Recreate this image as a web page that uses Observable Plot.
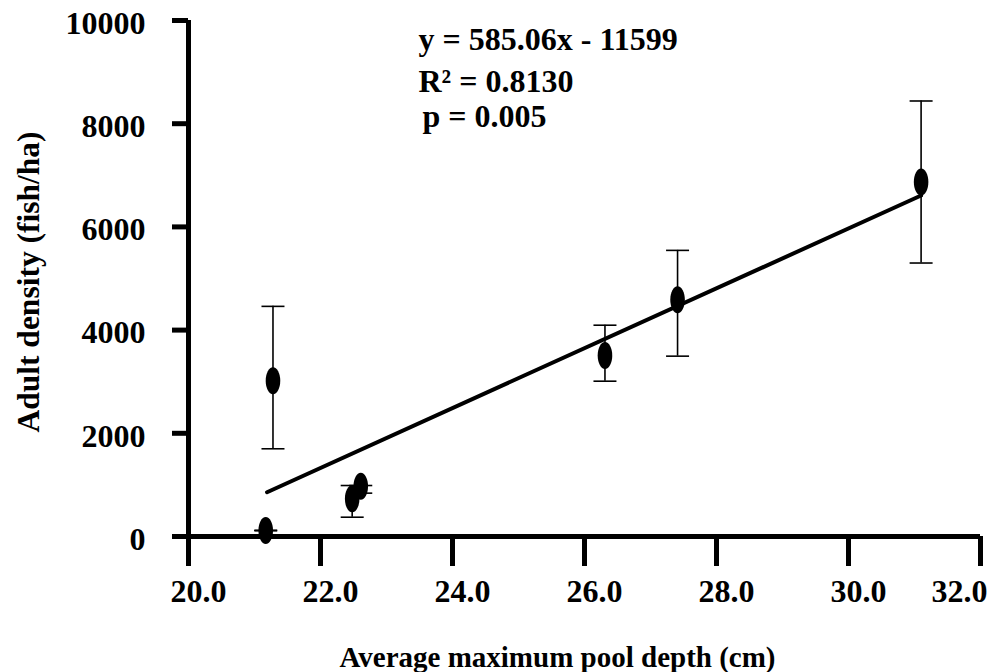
<!DOCTYPE html>
<html>
<head>
<meta charset="utf-8">
<script src="https://cdn.jsdelivr.net/npm/d3@7"></script>
<script src="https://cdn.jsdelivr.net/npm/@observablehq/plot@0.6"></script>
<style>
  html, body { margin: 0; padding: 0; background: #fff; }
</style>
</head>
<body>
<div id="chart"></div>
<script>
// ---- data ----
const depth   = [21.17, 21.28, 22.48, 22.61, 26.31, 27.41, 31.10];
const density = [116, 3020, 730, 975, 3510, 4590, 6870];
const errLow  = [110, 1700, 374, 840, 3010, 3495, 5300];
const errHigh = [122, 4460, 988, 988, 4095, 5545, 8440];

const fitX = [21.19, 31.10];
const fitY = [858, 6608];

const xTicks = [20, 22, 24, 26, 28, 30, 32];
const yTicks = [0, 2000, 4000, 6000, 8000, 10000];

const xLabel = "Average maximum pool depth (cm)";
const yLabel = "Adult density (fish/ha)";
const annotations = ["y = 585.06x - 11599", "R\u00B2 = 0.8130", "p = 0.005"];

// ---- tables built from the arrays ----
const points = depth.map((d, i) => ({x: d, y: density[i], lo: errLow[i], hi: errHigh[i]}));
const fit = fitX.map((d, i) => ({x: d, y: fitY[i]}));

// custom symbols
const K = 0.5523;
const ellipse = {
  draw(ctx, size) {
    const r = Math.sqrt(size / Math.PI);
    const ry = r, rx = r * 0.54;
    ctx.moveTo(rx, 0);
    ctx.bezierCurveTo(rx, K * ry, K * rx, ry, 0, ry);
    ctx.bezierCurveTo(-K * rx, ry, -rx, K * ry, -rx, 0);
    ctx.bezierCurveTo(-rx, -K * ry, -K * rx, -ry, 0, -ry);
    ctx.bezierCurveTo(K * rx, -ry, rx, -K * ry, rx, 0);
    ctx.closePath();
  }
};
const cap = {
  draw(ctx, size) {
    const r = Math.sqrt(size / Math.PI);
    ctx.moveTo(-r, 0);
    ctx.lineTo(r, 0);
  }
};

const FONT = "Liberation Serif, Times New Roman, serif";

const chart = Plot.plot({
  width: 998,
  height: 672,
  marginLeft: 188,
  marginRight: 18,
  marginTop: 20,
  marginBottom: 136,
  style: {fontFamily: FONT, fontSize: "30px", fontWeight: "bold", color: "#000", background: "#fff"},
  x: {domain: [20, 32], axis: null},
  y: {domain: [0, 10000], axis: null},
  marks: [
    // error bars
    Plot.ruleX(points, {x: "x", y1: "lo", y2: "hi", stroke: "#000", strokeWidth: 1.6}),
    Plot.dot(points, {x: "x", y: "lo", symbol: cap, r: 11.5, stroke: "#000", fill: "none", strokeWidth: 1.6}),
    Plot.dot(points, {x: "x", y: "hi", symbol: cap, r: 11.5, stroke: "#000", fill: "none", strokeWidth: 1.6}),
    // regression line
    Plot.line(fit, {x: "x", y: "y", stroke: "#000", strokeWidth: 4}),
    // points
    Plot.dot(points, {x: "x", y: "y", symbol: ellipse, r: 13.5, fill: "#000", stroke: "none"}),
    // axes lines
    Plot.ruleY([0], {x1: 20, x2: 32, stroke: "#000", strokeWidth: 5}),
    Plot.ruleX([20], {y1: 0, y2: 10000, stroke: "#000", strokeWidth: 5}),
    // x ticks
    Plot.axisX({ticks: xTicks, tickSize: 30, strokeWidth: 5, tickFormat: () => "", label: null}),
    Plot.axisX({ticks: xTicks.slice(0, -1), tickSize: 0, tickPadding: 43, dx: 10, tickFormat: d => d.toFixed(1), label: null,
                fontSize: 32, fontWeight: "bold", fontFamily: FONT}),
    Plot.axisX({ticks: xTicks.slice(-1), tickSize: 0, tickPadding: 43, dx: 7, textAnchor: "end", tickFormat: d => d.toFixed(1), label: null,
                fontSize: 32, fontWeight: "bold", fontFamily: FONT}),
    // y ticks
    Plot.axisY({ticks: yTicks, tickSize: 16, strokeWidth: 5, tickFormat: () => "", label: null}),
    Plot.axisY({ticks: yTicks, tickSize: 0, tickPadding: 43, dy: 3, tickFormat: d => String(d), label: null,
                fontSize: 32, fontWeight: "bold", fontFamily: FONT}),
    // axis titles
    Plot.text([xLabel], {frameAnchor: "bottom", lineAnchor: "bottom", dx: -27, dy: 130, text: d => d,
                         fontSize: 29, fontWeight: "bold", fontFamily: FONT}),
    Plot.text([yLabel], {frameAnchor: "left", textAnchor: "middle", rotate: -90, dx: -160, dy: 3.5, text: d => d,
                         fontSize: 31.5, fontWeight: "bold", fontFamily: FONT}),
    // annotations
    Plot.text([annotations[0]], {frameAnchor: "top-left", textAnchor: "start", lineAnchor: "bottom", dx: 230, dy: 29.3, text: d => d,
                                 fontSize: 32, fontWeight: "bold", fontFamily: FONT}),
    Plot.text([annotations[1]], {frameAnchor: "top-left", textAnchor: "start", lineAnchor: "bottom", dx: 230, dy: 71.7, text: d => d,
                                 fontSize: 32, fontWeight: "bold", fontFamily: FONT}),
    Plot.text([annotations[2]], {frameAnchor: "top-left", textAnchor: "start", lineAnchor: "bottom", dx: 234, dy: 106.7, text: d => d,
                                 fontSize: 32, fontWeight: "bold", fontFamily: FONT})
  ]
});
document.getElementById("chart").appendChild(chart);
</script>
</body>
</html>
